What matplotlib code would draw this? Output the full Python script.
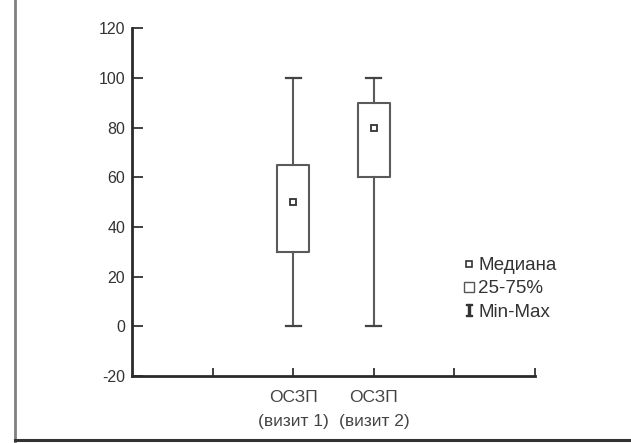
import matplotlib.pyplot as plt
from matplotlib.lines import Line2D

plt.rcParams['font.family'] = ['Liberation Sans', 'DejaVu Sans']
plt.rcParams['axes.unicode_minus'] = False

# данные по визитам
visits = ['ОСЗП\n(визит 1)', 'ОСЗП\n(визит 2)']
positions = [2, 3]
mins = [0, 0]
q1 = [30, 60]
medians = [50, 80]
q3 = [65, 90]
maxs = [100, 100]

yticks = [-20, 0, 20, 40, 60, 80, 100, 120]
xticks = [1, 2, 3, 4, 5]
legend_labels = ['Медиана', '25-75%', 'Min-Max']

stats = []
for i in range(len(visits)):
    stats.append({'whislo': mins[i], 'q1': q1[i], 'med': medians[i],
                  'q3': q3[i], 'whishi': maxs[i], 'fliers': []})

fig = plt.figure(figsize=(6.31, 4.43), dpi=100)
ax = fig.add_axes([0.2092, 0.1512, 0.6387, 0.7847])

edge = '#5a5a5a'
ax.bxp(stats, positions=positions, widths=0.4, capwidths=0.19,
       showfliers=False,
       boxprops=dict(color=edge, linewidth=1.5),
       whiskerprops=dict(color=edge, linewidth=1.5),
       capprops=dict(color='#444444', linewidth=1.6),
       medianprops=dict(linewidth=0))
ax.plot(positions, medians, ls='none', marker='s', ms=5, mfc='white',
        mec='#333333', mew=1.3)

ax.set_xlim(0, 5)
ax.set_ylim(-20, 120)
ax.set_yticks(yticks)
ax.set_xticks(xticks)
ax.set_xticklabels(['', visits[0], visits[1], '', ''], linespacing=1.75)

for s in ['top', 'right']:
    ax.spines[s].set_visible(False)
for s in ['left', 'bottom']:
    ax.spines[s].set_color('#2a2a2a')
    ax.spines[s].set_linewidth(2)

ax.tick_params(axis='y', direction='in', length=8, width=1.3, color='#333333',
               labelsize=11.5, labelcolor='#333333', pad=5)
ax.tick_params(axis='x', direction='in', length=6, width=1.3, color='#333333',
               labelsize=12.5, labelcolor='#444444', pad=10)

handles = [
    Line2D([], [], ls='none', marker='s', ms=4.5, mfc='white', mec='#333333', mew=1.2),
    Line2D([], [], ls='none', marker='s', ms=7.5, mfc='white', mec='#555555', mew=1.0),
    Line2D([], [], ls='none', marker='$\\mathtt{I}$', ms=9, color='#333333'),
]
fig.legend(handles, legend_labels, loc='upper left',
           bbox_to_anchor=(0.706, 0.458), frameon=False, fontsize=13.5,
           handlelength=0.7, handletextpad=0.15, labelspacing=0.33,
           labelcolor='#333333')

# рамка
fig.add_artist(Line2D([0.023, 0.023], [0, 1], color='#808080', lw=2))
fig.add_artist(Line2D([0.023, 1], [0.007, 0.007], color='#333333', lw=2.2))

fig.savefig('out.png', dpi=100)
